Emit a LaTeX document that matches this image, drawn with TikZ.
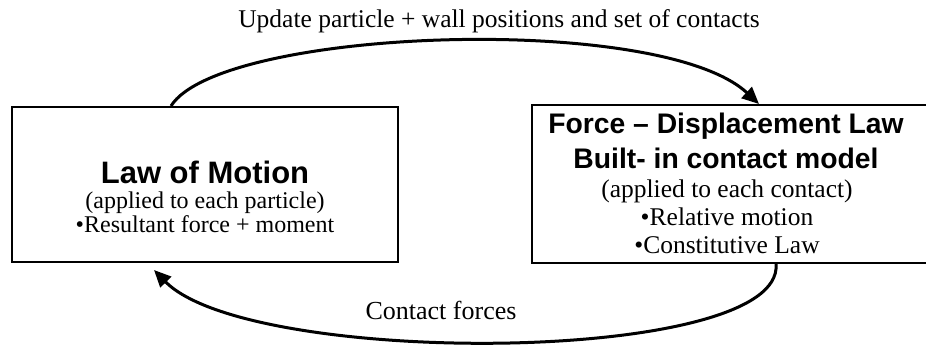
\documentclass[tikz,border=0pt]{standalone}
\usepackage{fontspec}
\setmainfont{Liberation Serif}
\newfontfamily\headfont{Liberation Sans}
\usetikzlibrary{arrows.meta}

\begin{document}
\begin{tikzpicture}[x=1bp,y=-1bp,
  panel/.style={draw=black,line width=2bp,inner sep=0pt},
  heading/.style={anchor=base,inner sep=0pt,font=\headfont\bfseries},
  body/.style={anchor=base,inner sep=0pt},
  flow/.style={line width=3bp,-{Triangle[length=17bp,width=15bp]}},
  caption/.style={anchor=base,inner sep=0pt,font=\fontsize{25.5bp}{30bp}\selectfont}]
  \useasboundingbox (0,0) rectangle (926,346);
  \clip (0,0) rectangle (926,346);

  % the two stages of the cycle
  \node[panel,minimum width=386bp,minimum height=155bp] (lm) at (205,184.5) {};
  \node[panel,minimum width=408bp,minimum height=158bp] (fd) at (736,184) {};

  % law of motion
  \node[heading,font=\headfont\bfseries\fontsize{31bp}{36bp}\selectfont] (lmt) at (205,183) {Law of Motion};
  \node[body,font=\fontsize{24bp}{28bp}\selectfont] (lma) at (205,208) {(applied to each particle)};
  \node[body,font=\fontsize{24bp}{28bp}\selectfont] (lmb) at (205,232) {•Resultant force + moment};

  % force-displacement law
  \node[heading,font=\headfont\bfseries\fontsize{28.3bp}{34bp}\selectfont] (fdt) at (726,133) {Force – Displacement Law};
  \node[heading,font=\headfont\bfseries\fontsize{28.3bp}{34bp}\selectfont] (fds) at (726,168) {Built- in contact model};
  \node[body,font=\fontsize{25.5bp}{30bp}\selectfont] (fda) at (727,197) {(applied to each contact)};
  \node[body,font=\fontsize{25.5bp}{30bp}\selectfont] (fdb) at (727,225) {•Relative motion};
  \node[body,font=\fontsize{25.5bp}{30bp}\selectfont] (fdc) at (727,253) {•Constitutive Law};

  % connectors
  \coordinate (upstart) at ([xshift=-34bp]lm.north);
  \coordinate (upend) at ([xshift=228bp]fd.north west);
  \draw[flow] (upstart) .. controls (220,28) and (660,12) .. (upend);

  \coordinate (downstart) at ([xshift=245bp]fd.south west);
  \coordinate (downend) at ([xshift=143bp,yshift=-7bp]lm.south west);
  \draw[flow] (downstart) .. controls (785,365) and (250,368) .. (downend);

  % connector labels
  \node[caption] (uplabel) at (499,27) {Update particle + wall positions and set of contacts};
  \node[caption,font=\fontsize{26bp}{30bp}\selectfont] (downlabel) at (441,319) {Contact forces};
\end{tikzpicture}
\end{document}
